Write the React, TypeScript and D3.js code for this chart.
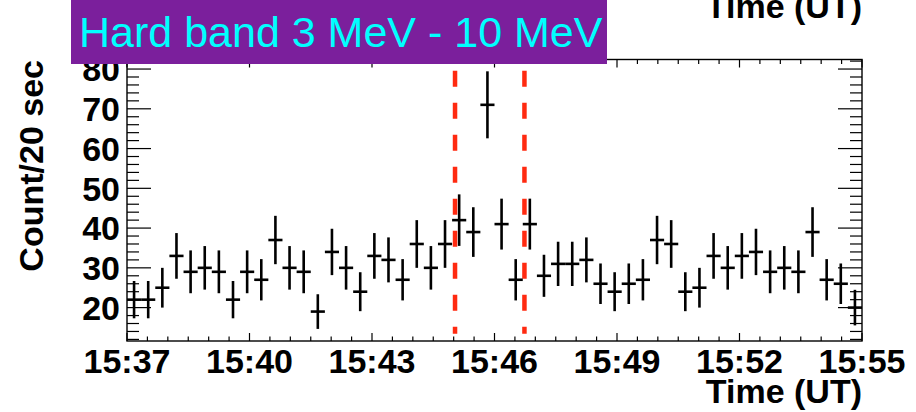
import React from "react";
import * as d3 from "d3";

// ---- data ----
const counts: number[] = [
  22, 22, 25, 33, 29, 30, 29, 22, 29, 27, 37, 30, 29, 19, 34, 30, 24, 33, 32, 27,
  36, 30, 36, 42, 39, 71, 41, 27, 41, 28, 31, 31, 32, 26, 24, 26, 27, 37, 36, 24,
  25, 33, 30, 33, 34, 29, 30, 29, 39, 27, 26, 20,
];
const timeStart = "15:37:00";
const timeEnd = "15:55:00";
const markerTimes: string[] = ["15:45:02", "15:46:44"];
const yDomain: [number, number] = [11.6, 82.4];
const yTicksMajor: number[] = [20, 30, 40, 50, 60, 70, 80];
const titleText = "Hard band 3 MeV - 10 MeV";
const xTitle = "Time (UT)";
const yTitle = "Count/20 sec";

const W = 916;
const H = 412;
const M = { left: 127, right: 862, top: 59.5, bottom: 341 };

function toDate(s: string): Date {
  const [h, m, sec] = s.split(":").map(Number);
  return new Date(Date.UTC(2000, 0, 1, h, m, sec));
}

export default function App() {
  const t0 = toDate(timeStart);
  const t1 = toDate(timeEnd);
  const x = d3.scaleUtc().domain([t0, t1]).range([M.left, M.right]);
  const y = d3.scaleLinear().domain(yDomain).range([M.bottom, M.top]);
  const nb = counts.length;
  const binMs = (t1.getTime() - t0.getTime()) / nb;
  const fmt = d3.utcFormat("%H:%M");

  const stop = new Date(t1.getTime() + 1);
  const majorX = d3.utcMinute.range(t0, stop, 3);
  const minorX = d3.utcSecond.range(t0, stop, 30);
  const minorY = d3.range(12, 83, 2);

  const font = "'Liberation Sans', Arial, Helvetica, sans-serif";
  const axisColor = "#000";

  return (
    <svg
      width={W}
      height={H}
      style={{ position: "fixed", left: 0, top: 0, background: "#fff" }}
      fontFamily={font}
    >
      <rect x={0} y={0} width={W} height={H} fill="#fff" />

      {/* top partial title from the panel above */}
      <text x={M.right} y={18} textAnchor="end" fontWeight="bold" fontSize={34} fill="#000">
        {xTitle}
      </text>

      {/* marker dashed lines */}
      {markerTimes.map((t, i) => (
        <line
          key={"mk" + i}
          x1={x(toDate(t))}
          x2={x(toDate(t))}
          y1={y(79.6)}
          y2={y(13.4)}
          stroke="#ff2a10"
          strokeWidth={4.5}
          strokeDasharray="16,16"
        />
      ))}

      {/* data crosses */}
      {counts.map((c, i) => {
        const a = new Date(t0.getTime() + i * binMs);
        const b = new Date(t0.getTime() + (i + 1) * binMs);
        const m = new Date(t0.getTime() + (i + 0.5) * binMs);
        const e = Math.sqrt(c);
        return (
          <g key={"p" + i} stroke="#000" strokeWidth={2.6}>
            <line x1={x(a)} x2={x(b)} y1={y(c)} y2={y(c)} />
            <line x1={x(m)} x2={x(m)} y1={y(c - e)} y2={y(c + e)} />
          </g>
        );
      })}

      {/* frame */}
      <rect
        x={M.left}
        y={M.top}
        width={M.right - M.left}
        height={M.bottom - M.top}
        fill="none"
        stroke={axisColor}
        strokeWidth={1.4}
      />

      {/* x ticks bottom & top */}
      {minorX.map((t, i) => {
        const isMajor = majorX.some((mt) => mt.getTime() === t.getTime());
        const len = isMajor ? 8 : 4.5;
        const xx = x(t);
        return (
          <g key={"xt" + i} stroke={axisColor} strokeWidth={1.2}>
            <line x1={xx} x2={xx} y1={M.bottom} y2={M.bottom - len} />
            <line x1={xx} x2={xx} y1={M.top} y2={M.top + len} />
          </g>
        );
      })}
      {majorX.map((t, i) => (
        <text
          key={"xl" + i}
          x={x(t)}
          y={372.5}
          textAnchor="middle"
          fontWeight="bold"
          fontSize={34}
          fill="#000"
        >
          {fmt(t)}
        </text>
      ))}

      {/* y ticks left & right */}
      {minorY.map((v, i) => {
        const isMajor = yTicksMajor.includes(v);
        const len = isMajor ? 24 : 12;
        const yy = y(v);
        return (
          <g key={"yt" + i} stroke={axisColor} strokeWidth={1.2}>
            <line x1={M.left} x2={M.left + len} y1={yy} y2={yy} />
            <line x1={M.right} x2={M.right - len} y1={yy} y2={yy} />
          </g>
        );
      })}
      {yTicksMajor.map((v, i) => (
        <text
          key={"yl" + i}
          x={120}
          y={y(v)}
          dy="0.36em"
          textAnchor="end"
          fontWeight="bold"
          fontSize={34}
          fill="#000"
        >
          {v}
        </text>
      ))}

      {/* axis titles */}
      <text x={M.right} y={403} textAnchor="end" fontWeight="bold" fontSize={34} fill="#000">
        {xTitle}
      </text>
      <text
        transform={`translate(43,60) rotate(-90)`}
        textAnchor="end"
        fontWeight="bold"
        fontSize={34}
        fill="#000"
      >
        {yTitle}
      </text>

      {/* title box */}
      <rect x={71} y={0} width={536} height={64} fill="#7b1f9c" />
      <text x={79} y={47} fontSize={43} fill="#00ffff">
        {titleText}
      </text>
    </svg>
  );
}
